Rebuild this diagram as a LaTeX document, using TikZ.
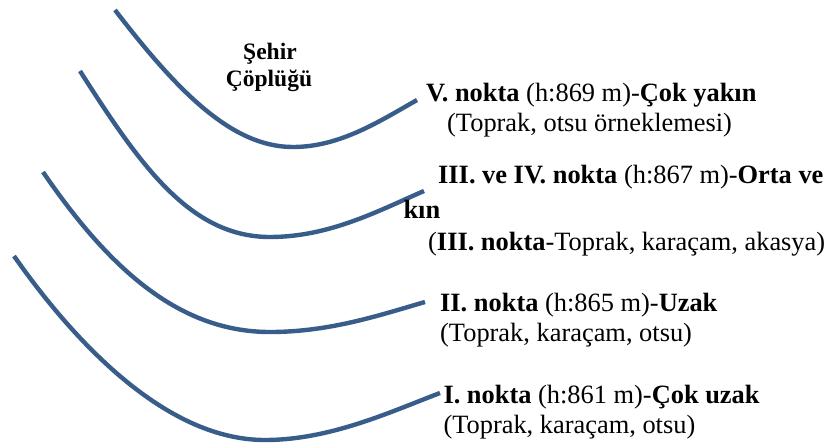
\documentclass[tikz,border=0pt]{standalone}
\usepackage{fontspec}
\setmainfont{Liberation Serif}
\definecolor{curveblue}{RGB}{56,93,138}
\tikzset{
  contour/.style={draw=curveblue, line width=4.4pt, line cap=butt},
  maintext/.style={anchor=base west, inner sep=0pt, font=\fontsize{26.4}{30}\selectfont},
  titletext/.style={anchor=base, inner sep=0pt, font=\fontsize{23.5}{26}\selectfont\bfseries}
}
\begin{document}
\begin{tikzpicture}[x=1pt,y=-1pt]
\useasboundingbox (0,0) rectangle (834,447);
% contour curves
\draw[contour] (115,10) .. controls (178,92) and (232,147) .. (293,147)
  .. controls (340,147) and (380,121) .. (417,100);
\draw[contour] (80,71) .. controls (140,165) and (190,237) .. (270,237)
  .. controls (330,237) and (380,210) .. (424,191);
\draw[contour] (43,172) .. controls (110,270) and (180,332) .. (270,332)
  .. controls (330,332) and (380,315) .. (425,302);
\draw[contour] (14,256) .. controls (80,350) and (170,440) .. (265,440)
  .. controls (330,440) and (390,412) .. (440,393);
% title
\node[titletext] (t1) at (270,59) {Şehir};
\node[titletext] (t2) at (269,86) {Çöplüğü};
% labels
\node[maintext] (v1) at (426,101.5) {\textbf{V. nokta} (h:869 m)-\textbf{Çok yakın}};
\node[maintext] (v2) at (447,131.5) {(Toprak, otsu örneklemesi)};
\node[maintext] (iii1) at (438,183.3) {\textbf{III. ve IV. nokta} (h:867 m)-\textbf{Orta ve}};
\node[maintext] (iii2) at (403.3,218) {\textbf{kın}};
\node[maintext] (iii3) at (428,250) {(\textbf{III. nokta}-Toprak, karaçam, akasya)};
\node[maintext] (ii1) at (440,311.7) {\textbf{II. nokta} (h:865 m)-\textbf{Uzak}};
\node[maintext] (ii2) at (440,341.7) {(Toprak, karaçam, otsu)};
\node[maintext] (i1) at (443.3,403.3) {\textbf{I. nokta} (h:861 m)-\textbf{Çok uzak}};
\node[maintext] (i2) at (443.3,433.3) {(Toprak, karaçam, otsu)};
\end{tikzpicture}
\end{document}
